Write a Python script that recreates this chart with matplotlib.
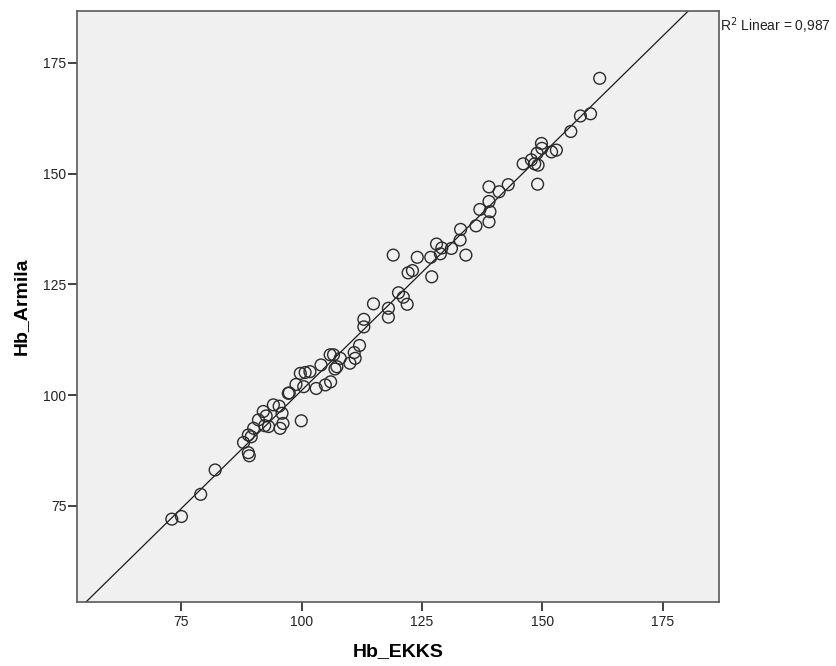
import numpy as np
import matplotlib.pyplot as plt

plt.rcParams['font.family'] = ['Liberation Sans', 'DejaVu Sans']

# Hb measured with the EKKS method and with Armila, one pair per sample
hb_ekks = [73.0, 75.0, 79.0, 82.0, 87.9, 88.9, 89.1, 88.9, 89.5, 90.0,
           91.0, 92.0, 92.6, 93.1, 92.3, 94.1, 95.3, 95.9, 95.5, 96.1,
           99.9, 97.2, 97.4, 98.8, 99.7, 100.7, 101.7, 100.4, 103.0, 104.9,
           106.0, 104.0, 105.9, 106.6, 107.3, 108.0, 106.9, 110.0, 111.1, 110.9,
           112.0, 112.9, 112.9, 114.9, 118.0, 118.0, 119.0, 120.1, 121.1, 121.9,
           122.1, 123.0, 124.0, 126.8, 127.0, 128.0, 129.1, 128.8, 131.1, 132.9,
           134.1, 133.0, 136.2, 137.0, 138.9, 138.9, 139.1, 138.9, 141.0, 142.9,
           146.0, 147.7, 148.4, 149.1, 148.9, 149.8, 149.9, 151.9, 152.9, 149.0,
           155.9, 157.9, 160.0, 161.9]
hb_armila = [72.0, 72.6, 77.6, 83.1, 89.3, 87.0, 86.3, 91.0, 90.6, 92.5,
             94.4, 96.3, 95.3, 92.9, 93.1, 97.8, 97.5, 95.9, 92.5, 93.6,
             94.2, 100.4, 100.5, 102.4, 104.9, 105.1, 105.3, 101.9, 101.5, 102.3,
             103.0, 106.8, 109.1, 109.1, 106.4, 108.3, 105.9, 107.2, 108.3, 109.6,
             111.2, 117.1, 115.4, 120.6, 119.6, 117.6, 131.6, 123.1, 122.1, 120.5,
             127.6, 128.1, 131.1, 131.1, 126.7, 134.1, 133.2, 131.9, 133.1, 135.0,
             131.6, 137.4, 138.2, 141.9, 147.0, 143.7, 141.4, 139.1, 145.9, 147.5,
             152.2, 153.1, 152.2, 151.9, 154.6, 156.8, 155.7, 154.9, 155.3, 147.6,
             159.5, 163.0, 163.5, 171.5]
ticks = [75, 100, 125, 150, 175]
lims = (53.3, 186.7)

x = np.array(hb_ekks)
y = np.array(hb_armila)
slope, intercept = np.polyfit(x, y, 1)

fig = plt.figure(figsize=(8.36, 6.66), dpi=100)
ax = fig.add_axes([0.0921, 0.0961, 0.768, 0.8874])
ax.set_facecolor('#f0f0f0')

ax.scatter(x, y, s=72, facecolors='none', edgecolors='#2b2b2b', linewidths=1.0, zorder=3)
xx = np.array(lims)
ax.plot(xx, slope * xx + intercept, color='#1a1a1a', lw=0.9, zorder=2)

ax.set_xlim(lims)
ax.set_ylim(lims)
ax.set_xticks(ticks)
ax.set_yticks(ticks)
ax.tick_params(axis='both', direction='out', length=6.5, width=1.3, color='#333333',
               labelsize=10, labelcolor='#222222')
ax.tick_params(axis='x', pad=3)
ax.tick_params(axis='y', pad=1)
for sp in ax.spines.values():
    sp.set_color('#5a5a5a')
    sp.set_linewidth(1.2)

ax.set_xlabel('Hb_EKKS', fontsize=14, fontweight='bold', labelpad=10)
ax.set_ylabel('Hb_Armila', fontsize=14, fontweight='bold', labelpad=10)

fig.text(0.861, 0.962, 'R$^2$ Linear = 0,987', fontsize=10, color='#222222',
         ha='left', va='center')

fig.savefig('out.png', dpi=100)
